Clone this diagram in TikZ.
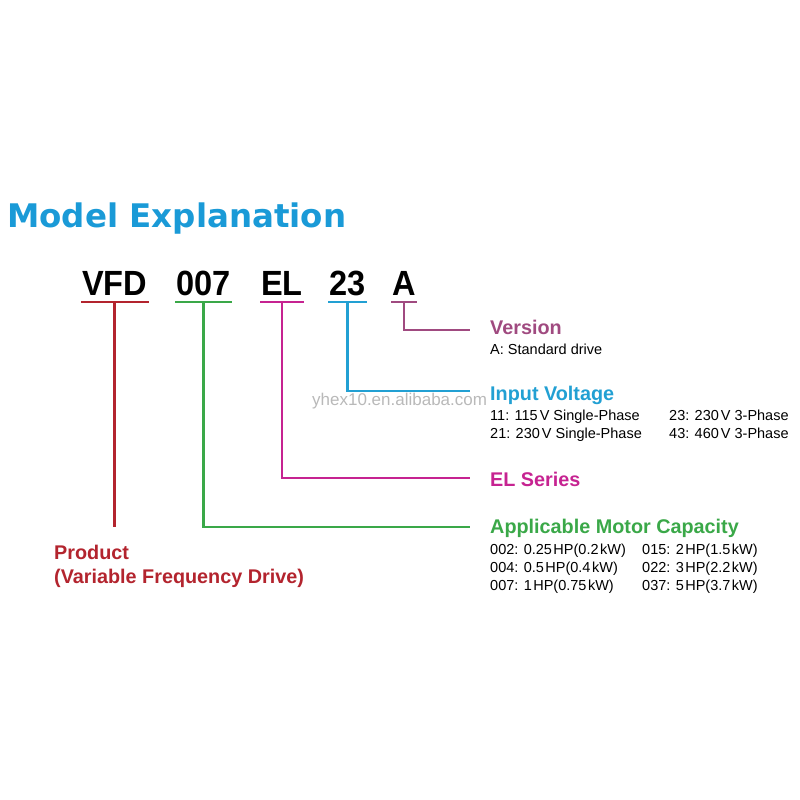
\documentclass[tikz,border=0pt]{standalone}
\usepackage{fontspec}
\setmainfont{Liberation Sans}
\newfontfamily\titlefont{DejaVu Sans}
\newfontfamily\segfont{Liberation Sans}[FakeStretch=0.93]
\usetikzlibrary{calc}
\definecolor{titel}{HTML}{1A9AD7}
\definecolor{rot}{HTML}{B3242E}
\definecolor{gruen}{HTML}{3AA848}
\definecolor{magen}{HTML}{C62391}
\definecolor{cyan}{HTML}{22A0D3}
\definecolor{lila}{HTML}{A04A80}
\tikzset{
  seg/.style={font=\segfont\bfseries\fontsize{35}{40}\selectfont,inner xsep=1pt,inner ysep=0pt,anchor=base west},
  lab/.style={font=\bfseries\fontsize{19.8}{23}\selectfont,inner sep=0pt,anchor=base west},
  info/.style={font=\fontsize{14.5}{18.3}\selectfont,inner sep=0pt,anchor=north west,align=left},
  wire/.style={line width=2.6pt},
}

\begin{document}
\begin{tikzpicture}[x=1pt,y=-1pt]
  \useasboundingbox (0,0) rectangle (800,800);
  % title
  \node[anchor=base west,inner sep=0pt,titel,font=\titlefont\bfseries\fontsize{32.5}{38}\selectfont] (head) at (7,227) {Model Explanation};
  % model code
  \node[seg] (vfd) at (81,295) {VFD};
  \node[seg] (kap) at (175,295) {007};
  \node[seg] (ser) at (260,295) {EL};
  \node[seg] (vol) at (328,295) {23};
  \node[seg] (ver) at (391,295) {A};
  % labels
  \node[lab,lila] (lver) at (490,334) {Version};
  \node[info] at (490,343.6) {A: Standard drive};
  \node[lab,cyan] (lvol) at (490,400) {Input Voltage};
  \node[info] at (490,409.4) {11: 115\kern2pt V Single-Phase\\21: 230\kern2pt V Single-Phase};
  \node[info] at (669,409.4) {23: 230\kern2pt V 3-Phase\\43: 460\kern2pt V 3-Phase};
  \node[lab,magen] (lser) at (490,486) {EL Series};
  \node[lab,gruen] (lkap) at (490,533) {Applicable Motor Capacity};
  \node[info] at (490,543.4) {002: 0.25\kern1.5pt HP(0.2\kern1.5pt kW)\\004: 0.5\kern1.5pt HP(0.4\kern1.5pt kW)\\007: 1\kern1.5pt HP(0.75\kern1.5pt kW)};
  \node[info] at (642,543.4) {015: 2\kern1.5pt HP(1.5\kern1.5pt kW)\\022: 3\kern1.5pt HP(2.2\kern1.5pt kW)\\037: 5\kern1.5pt HP(3.7\kern1.5pt kW)};
  \node[lab,rot] (lvfd) at (54,559) {Product};
  \node[lab,rot] (lvfd2) at (54,583) {(Variable Frequency Drive)};
  % watermark
  \node[anchor=base west,inner sep=0pt,gray!55,font=\fontsize{17}{20}\selectfont] (wm) at (312,405) {yhex10.en.alibaba.com};
  % underlines and leads
  \draw[wire,rot] ($(vfd.base west)+(0,7)$) -- ($(vfd.base east)+(0,7)$);
  \draw[wire,rot] ($(vfd.base)+(0,7)$) -- ($(vfd.base |- lvfd.north)+(0,-17)$);
  \draw[wire,gruen] ($(kap.base west)+(0,7)$) -- ($(kap.base east)+(0,7)$);
  \draw[wire,gruen] ($(kap.base)+(0,7)$) |- ([xshift=-20pt,yshift=1pt]lkap.west);
  \draw[wire,magen] ($(ser.base west)+(0,7)$) -- ($(ser.base east)+(0,7)$);
  \draw[wire,magen] ($(ser.base)+(0,7)$) |- ([xshift=-20pt,yshift=1pt]lser.west);
  \draw[wire,cyan] ($(vol.base west)+(0,7)$) -- ($(vol.base east)+(0,7)$);
  \draw[wire,cyan] ($(vol.base)+(0,7)$) |- ([xshift=-20pt,yshift=4pt]lvol.west);
  \draw[wire,lila] ($(ver.base west)+(0,7)$) -- ($(ver.base east)+(0,7)$);
  \draw[wire,lila] ($(ver.base)+(0,7)$) |- ([xshift=-20pt,yshift=-3pt]lver.west);
\end{tikzpicture}
\end{document}
